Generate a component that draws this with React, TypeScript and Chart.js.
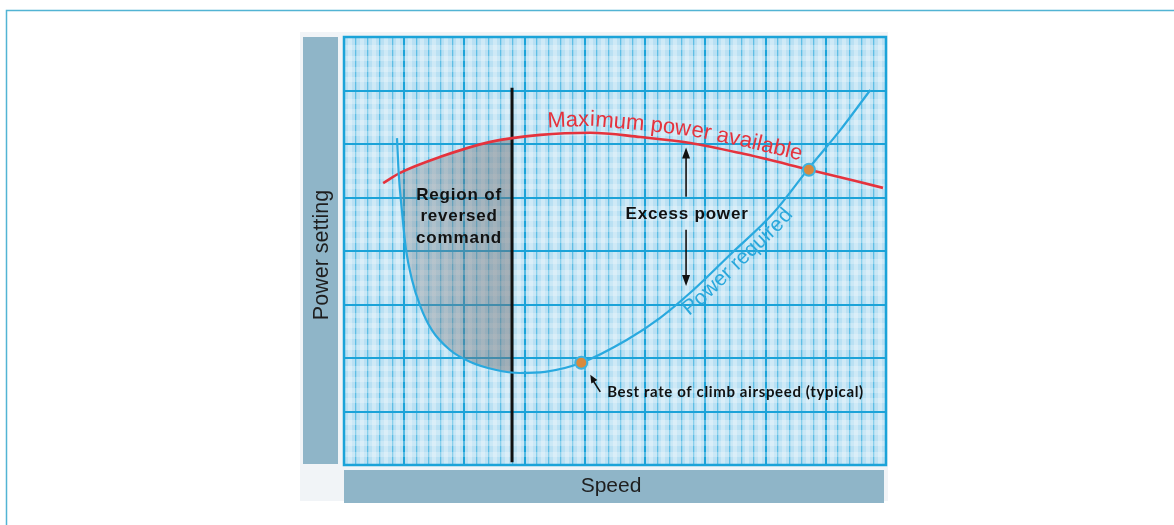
import React, { useEffect, useRef } from "react";
import { Chart, registerables } from "chart.js";

Chart.register(...registerables);

// ---- data (x = speed grid units, y = power grid units) ----
const SPEED_MIN = 0;
const SPEED_MAX = 9;
const POWER_MIN = 0;
const POWER_MAX = 8;

const availableSpeed = [0.65, 0.93, 1.6, 2.43, 3.26, 4.09, 4.92, 5.75, 6.58, 7.69, 8.95];
const availablePower = [5.27, 5.46, 5.76, 6.04, 6.17, 6.21, 6.13, 6.02, 5.83, 5.53, 5.18];

const requiredSpeed = [0.88, 0.91, 0.96, 1.03, 1.13, 1.26, 1.46, 1.76, 2.09, 2.51, 2.92, 3.34, 3.94, 4.7, 5.25, 5.8, 6.41, 7.13, 7.72, 8.24, 8.74];
const requiredPower = [6.11, 5.42, 4.77, 4.02, 3.46, 2.99, 2.52, 2.15, 1.93, 1.78, 1.72, 1.74, 1.91, 2.34, 2.75, 3.27, 3.93, 4.71, 5.55, 6.26, 7.01];

const boundarySpeed = [2.79, 2.79];
const boundaryPower = [0.05, 7.05];

const markerSpeed = [3.94, 7.72];
const markerPower = [1.91, 5.52];

const X_TITLE = "Speed";
const Y_TITLE = "Power setting";
const LABEL_AVAILABLE = "Maximum power available";
const LABEL_REQUIRED = "Power required";
const LABEL_EXCESS = "Excess power";
const LABEL_REGION = ["Region of", "reversed", "command"];
const LABEL_BEST = "Best rate of climb airspeed (typical)";

// annotation anchors (data units)
const EXCESS_X = 5.68;
const REGION_X = 1.894;
const REGION_Y = 5.05;
const BEST_X = 4.37;
const BEST_Y = 1.27;

const MAJOR = "#1ba3d8";
const MINOR = "#5fbee5";
const STRIPE = "rgba(255,255,255,0.3)";

type P = { x: number; y: number };

function yAtX(pts: P[], x: number): number {
  for (let i = 0; i < pts.length - 1; i++) {
    const a = pts[i], b = pts[i + 1];
    if ((a.x - x) * (b.x - x) <= 0 && a.x !== b.x) {
      const t = (x - a.x) / (b.x - a.x);
      return a.y + (b.y - a.y) * t;
    }
  }
  return pts[pts.length - 1].y;
}

function textOnCurve(ctx: CanvasRenderingContext2D, pts: P[], text: string, startX: number, offset: number, spacing: number) {
  const cum = [0];
  for (let i = 1; i < pts.length; i++) cum.push(cum[i - 1] + Math.hypot(pts[i].x - pts[i - 1].x, pts[i].y - pts[i - 1].y));
  const at = (s: number) => {
    let i = 0;
    while (i < pts.length - 2 && cum[i + 1] < s) i++;
    const seg = cum[i + 1] - cum[i] || 1;
    const t = (s - cum[i]) / seg;
    const p0 = pts[i], p1 = pts[i + 1];
    return { x: p0.x + (p1.x - p0.x) * t, y: p0.y + (p1.y - p0.y) * t };
  };
  let s0 = 0;
  for (let i = 0; i < pts.length - 1; i++) {
    if ((pts[i].x - startX) * (pts[i + 1].x - startX) <= 0 && pts[i].x !== pts[i + 1].x) {
      const t = (startX - pts[i].x) / (pts[i + 1].x - pts[i].x);
      s0 = cum[i] + t * (cum[i + 1] - cum[i]);
      break;
    }
  }
  let s = s0;
  ctx.textAlign = "center";
  ctx.textBaseline = "alphabetic";
  for (const ch of text) {
    const w = ctx.measureText(ch).width;
    const m = s + w / 2;
    const p = at(m);
    const pa = at(m - 9), pb = at(m + 9);
    const ang = Math.atan2(pb.y - pa.y, pb.x - pa.x);
    const nx = Math.sin(ang), ny = -Math.cos(ang);
    ctx.save();
    ctx.translate(p.x + nx * offset, p.y + ny * offset);
    ctx.rotate(ang);
    ctx.fillText(ch, 0, 0);
    ctx.restore();
    s += w + spacing;
  }
}

function arrowHead(ctx: CanvasRenderingContext2D, tx: number, ty: number, fx: number, fy: number, len: number, half: number) {
  const ang = Math.atan2(ty - fy, tx - fx);
  ctx.beginPath();
  ctx.moveTo(tx, ty);
  ctx.lineTo(tx - len * Math.cos(ang) + half * Math.sin(ang), ty - len * Math.sin(ang) - half * Math.cos(ang));
  ctx.lineTo(tx - len * Math.cos(ang) - half * Math.sin(ang), ty - len * Math.sin(ang) + half * Math.cos(ang));
  ctx.closePath();
  ctx.fill();
}

const decorPlugin = {
  id: "decor",
  beforeDraw(chart: any) {
    const ctx: CanvasRenderingContext2D = chart.ctx;
    const a = chart.chartArea;
    ctx.save();
    ctx.fillStyle = "#ffffff";
    ctx.fillRect(0, 0, chart.width, chart.height);
    // page frame
    ctx.strokeStyle = "#52b4d4";
    ctx.lineWidth = 1.5;
    ctx.beginPath();
    ctx.moveTo(6.5, chart.height);
    ctx.lineTo(6.5, 10.5);
    ctx.lineTo(chart.width, 10.5);
    ctx.stroke();
    // figure background
    ctx.fillStyle = "#f1f4f7";
    ctx.fillRect(a.left - 44, a.top - 5, a.right - a.left + 46, a.bottom - a.top + 41);
    // axis label boxes
    ctx.fillStyle = "#8fb5c8";
    ctx.fillRect(a.left - 41, a.top, 35, a.bottom - a.top - 1);
    ctx.fillRect(a.left, a.bottom + 5, a.right - a.left - 2, 33);
    // plot background
    ctx.fillStyle = "#b9e0f3";
    ctx.fillRect(a.left, a.top, a.right - a.left, a.bottom - a.top);
    // axis titles
    ctx.fillStyle = "#1e1e1e";
    ctx.font = '21px "Liberation Sans", Arial, sans-serif';
    ctx.textAlign = "center";
    ctx.textBaseline = "alphabetic";
    ctx.fillText(X_TITLE, (a.left + a.right) / 2 - 4, a.bottom + 27);
    ctx.save();
    ctx.translate(a.left - 16, (a.top + a.bottom) / 2 + 4);
    ctx.rotate(-Math.PI / 2);
    ctx.font = '21.5px "Liberation Sans", Arial, sans-serif';
    ctx.fillText(Y_TITLE, 0, 0);
    ctx.restore();
    ctx.restore();
  },
  beforeDatasetsDraw(chart: any) {
    const ctx: CanvasRenderingContext2D = chart.ctx;
    const a = chart.chartArea;
    // plot border
    ctx.save();
    ctx.strokeStyle = MAJOR;
    ctx.lineWidth = 2.5;
    ctx.strokeRect(a.left, a.top, a.right - a.left, a.bottom - a.top);
    ctx.restore();

    const blueLine = chart.getDatasetMeta(0).dataset;
    const redLine = chart.getDatasetMeta(1).dataset;
    if (!blueLine || !redLine) return;
    blueLine.updateControlPoints(a, "x");
    redLine.updateControlPoints(a, "x");
    const xb = chart.scales.x.getPixelForValue(boundarySpeed[0]);
    ctx.save();
    ctx.beginPath();
    redLine.path(ctx);
    const rp = redLine.points;
    ctx.lineTo(rp[rp.length - 1].x, a.bottom);
    ctx.lineTo(rp[0].x, a.bottom);
    ctx.closePath();
    ctx.clip();
    ctx.beginPath();
    blueLine.path(ctx);
    const bp = blueLine.points;
    ctx.lineTo(bp[bp.length - 1].x, a.top);
    ctx.lineTo(bp[0].x, a.top);
    ctx.closePath();
    ctx.clip();
    const grad = ctx.createLinearGradient(a.left + 50, 0, xb, 0);
    grad.addColorStop(0, "rgba(125,128,134,0.3)");
    grad.addColorStop(1, "rgba(110,113,118,0.5)");
    ctx.fillStyle = grad;
    ctx.fillRect(a.left, a.top, xb - a.left, a.bottom - a.top);
    ctx.restore();
  },
  afterDatasetsDraw(chart: any) {
    const ctx: CanvasRenderingContext2D = chart.ctx;
    const xs = chart.scales.x, ys = chart.scales.y;
    const bluePts: P[] = chart.getDatasetMeta(0).data.map((e: any) => ({ x: e.x, y: e.y }));
    const redPts: P[] = chart.getDatasetMeta(1).data.map((e: any) => ({ x: e.x, y: e.y }));
    ctx.save();
    // curve labels
    ctx.fillStyle = "#e5333d";
    ctx.font = '22px "Liberation Sans", Arial, sans-serif';
    textOnCurve(ctx, redPts, LABEL_AVAILABLE, 548, 7, 0);
    ctx.fillStyle = "#2aa8dc";
    ctx.font = '21px "Liberation Sans", Arial, sans-serif';
    textOnCurve(ctx, bluePts.slice(8), LABEL_REQUIRED, 678, -17, 0);

    // excess power arrow
    const ex = xs.getPixelForValue(EXCESS_X);
    const topY = yAtX(redPts, ex) + 5;
    const botY = yAtX(bluePts.slice(8), ex) - 10;
    const midY = (topY + botY) / 2 - 2;
    ctx.fillStyle = "#111";
    ctx.strokeStyle = "#111";
    ctx.lineWidth = 1.6;
    ctx.beginPath();
    ctx.moveTo(ex, topY + 8);
    ctx.lineTo(ex, midY - 18);
    ctx.moveTo(ex, midY + 15);
    ctx.lineTo(ex, botY - 8);
    ctx.stroke();
    arrowHead(ctx, ex, topY, ex, topY + 20, 11, 4);
    arrowHead(ctx, ex, botY, ex, botY - 20, 11, 4);
    ctx.font = 'bold 17px "Liberation Sans", Arial, sans-serif';
    (ctx as any).letterSpacing = "0.8px";
    ctx.textAlign = "center";
    ctx.textBaseline = "middle";
    ctx.fillText(LABEL_EXCESS, ex + 1, midY);

    // region label
    const rx = xs.getPixelForValue(REGION_X);
    const ry = ys.getPixelForValue(REGION_Y);
    LABEL_REGION.forEach((line, i) => ctx.fillText(line, rx + 1, ry + i * 21.5));

    // best rate label + arrow
    const mx = xs.getPixelForValue(markerSpeed[0]);
    const my = ys.getPixelForValue(markerPower[0]);
    ctx.lineWidth = 1.6;
    ctx.beginPath();
    ctx.moveTo(mx + 19, my + 29);
    ctx.lineTo(mx + 12, my + 18);
    ctx.stroke();
    arrowHead(ctx, mx + 9, my + 12, mx + 19, my + 29, 8, 3.5);
    ctx.font = 'bold 15px Lato, "Liberation Sans", sans-serif';
    (ctx as any).letterSpacing = "0px";
    const target = 256;
    const w = ctx.measureText(LABEL_BEST).width;
    const sp = (target - w) / (LABEL_BEST.length - 1);
    (ctx as any).letterSpacing = sp.toFixed(2) + "px";
    ctx.textAlign = "left";
    ctx.textBaseline = "alphabetic";
    ctx.fillText(LABEL_BEST, xs.getPixelForValue(BEST_X), ys.getPixelForValue(BEST_Y));
    (ctx as any).letterSpacing = "0px";
    ctx.restore();
  },
};

function gridStyle(v: number, vertical: boolean) {
  const k = Math.round(v * 10);
  if (k % 10 === 0) return { c: MAJOR, w: 2 };
  if (vertical) {
    if (k % 2 === 0) return { c: MINOR, w: 1.3 };
    return { c: STRIPE, w: 4 };
  }
  if (k % 2 === 0) return { c: "rgba(255,255,255,0.26)", w: 5 };
  return { c: "rgba(0,0,0,0)", w: 0 };
}

export default function App() {
  const ref = useRef<HTMLCanvasElement | null>(null);
  useEffect(() => {
    if (!ref.current) return;
    const chart = new Chart(ref.current, {
      type: "line",
      data: {
        datasets: [
          {
            label: "Power required",
            data: requiredSpeed.map((x, i) => ({ x, y: requiredPower[i] })),
            borderColor: "#29a9df",
            borderWidth: 2.2,
            pointRadius: 0,
            cubicInterpolationMode: "monotone",
            fill: false,
            order: 1,
          },
          {
            label: "Maximum power available",
            data: availableSpeed.map((x, i) => ({ x, y: availablePower[i] })),
            borderColor: "#e5333d",
            borderWidth: 2.6,
            pointRadius: 0,
            cubicInterpolationMode: "monotone",
            fill: false,
            order: 2,
          },
          {
            label: "Reversed command boundary",
            data: boundarySpeed.map((x, i) => ({ x, y: boundaryPower[i] })),
            borderColor: "#111111",
            borderWidth: 3,
            pointRadius: 0,
            tension: 0,
            fill: false,
            order: 3,
          },
          {
            label: "Points",
            data: markerSpeed.map((x, i) => ({ x, y: markerPower[i] })),
            showLine: false,
            pointRadius: 6,
            pointBackgroundColor: "#d98a3c",
            pointBorderColor: "#3cb3e1",
            pointBorderWidth: 2,
            order: 0,
          },
        ],
      },
      options: {
        responsive: false,
        maintainAspectRatio: false,
        devicePixelRatio: 1,
        animation: false,
        events: [],
        layout: { padding: { left: 344, right: 288, top: 37, bottom: 60 } },
        plugins: { legend: { display: false }, tooltip: { enabled: false }, title: { display: false } },
        scales: {
          x: {
            type: "linear",
            min: SPEED_MIN,
            max: SPEED_MAX,
            ticks: { display: false, stepSize: 0.1, maxTicksLimit: 1000 },
            grid: {
              drawTicks: false,
              color: (c: any) => gridStyle(c.tick.value, true).c,
              lineWidth: (c: any) => gridStyle(c.tick.value, true).w,
            },
            border: { display: false },
            title: { display: false },
          },
          y: {
            type: "linear",
            min: POWER_MIN,
            max: POWER_MAX,
            ticks: { display: false, stepSize: 0.1, maxTicksLimit: 1000 },
            grid: {
              drawTicks: false,
              color: (c: any) => gridStyle(c.tick.value, false).c,
              lineWidth: (c: any) => gridStyle(c.tick.value, false).w,
            },
            border: { display: false },
            title: { display: false },
          },
        },
      },
      plugins: [decorPlugin],
    } as any);
    return () => chart.destroy();
  }, []);
  return (
    <div style={{ position: "absolute", left: 0, top: 0, width: 1174, height: 525 }}>
      <canvas ref={ref} width={1174} height={525} style={{ display: "block", width: 1174, height: 525 }} />
    </div>
  );
}
